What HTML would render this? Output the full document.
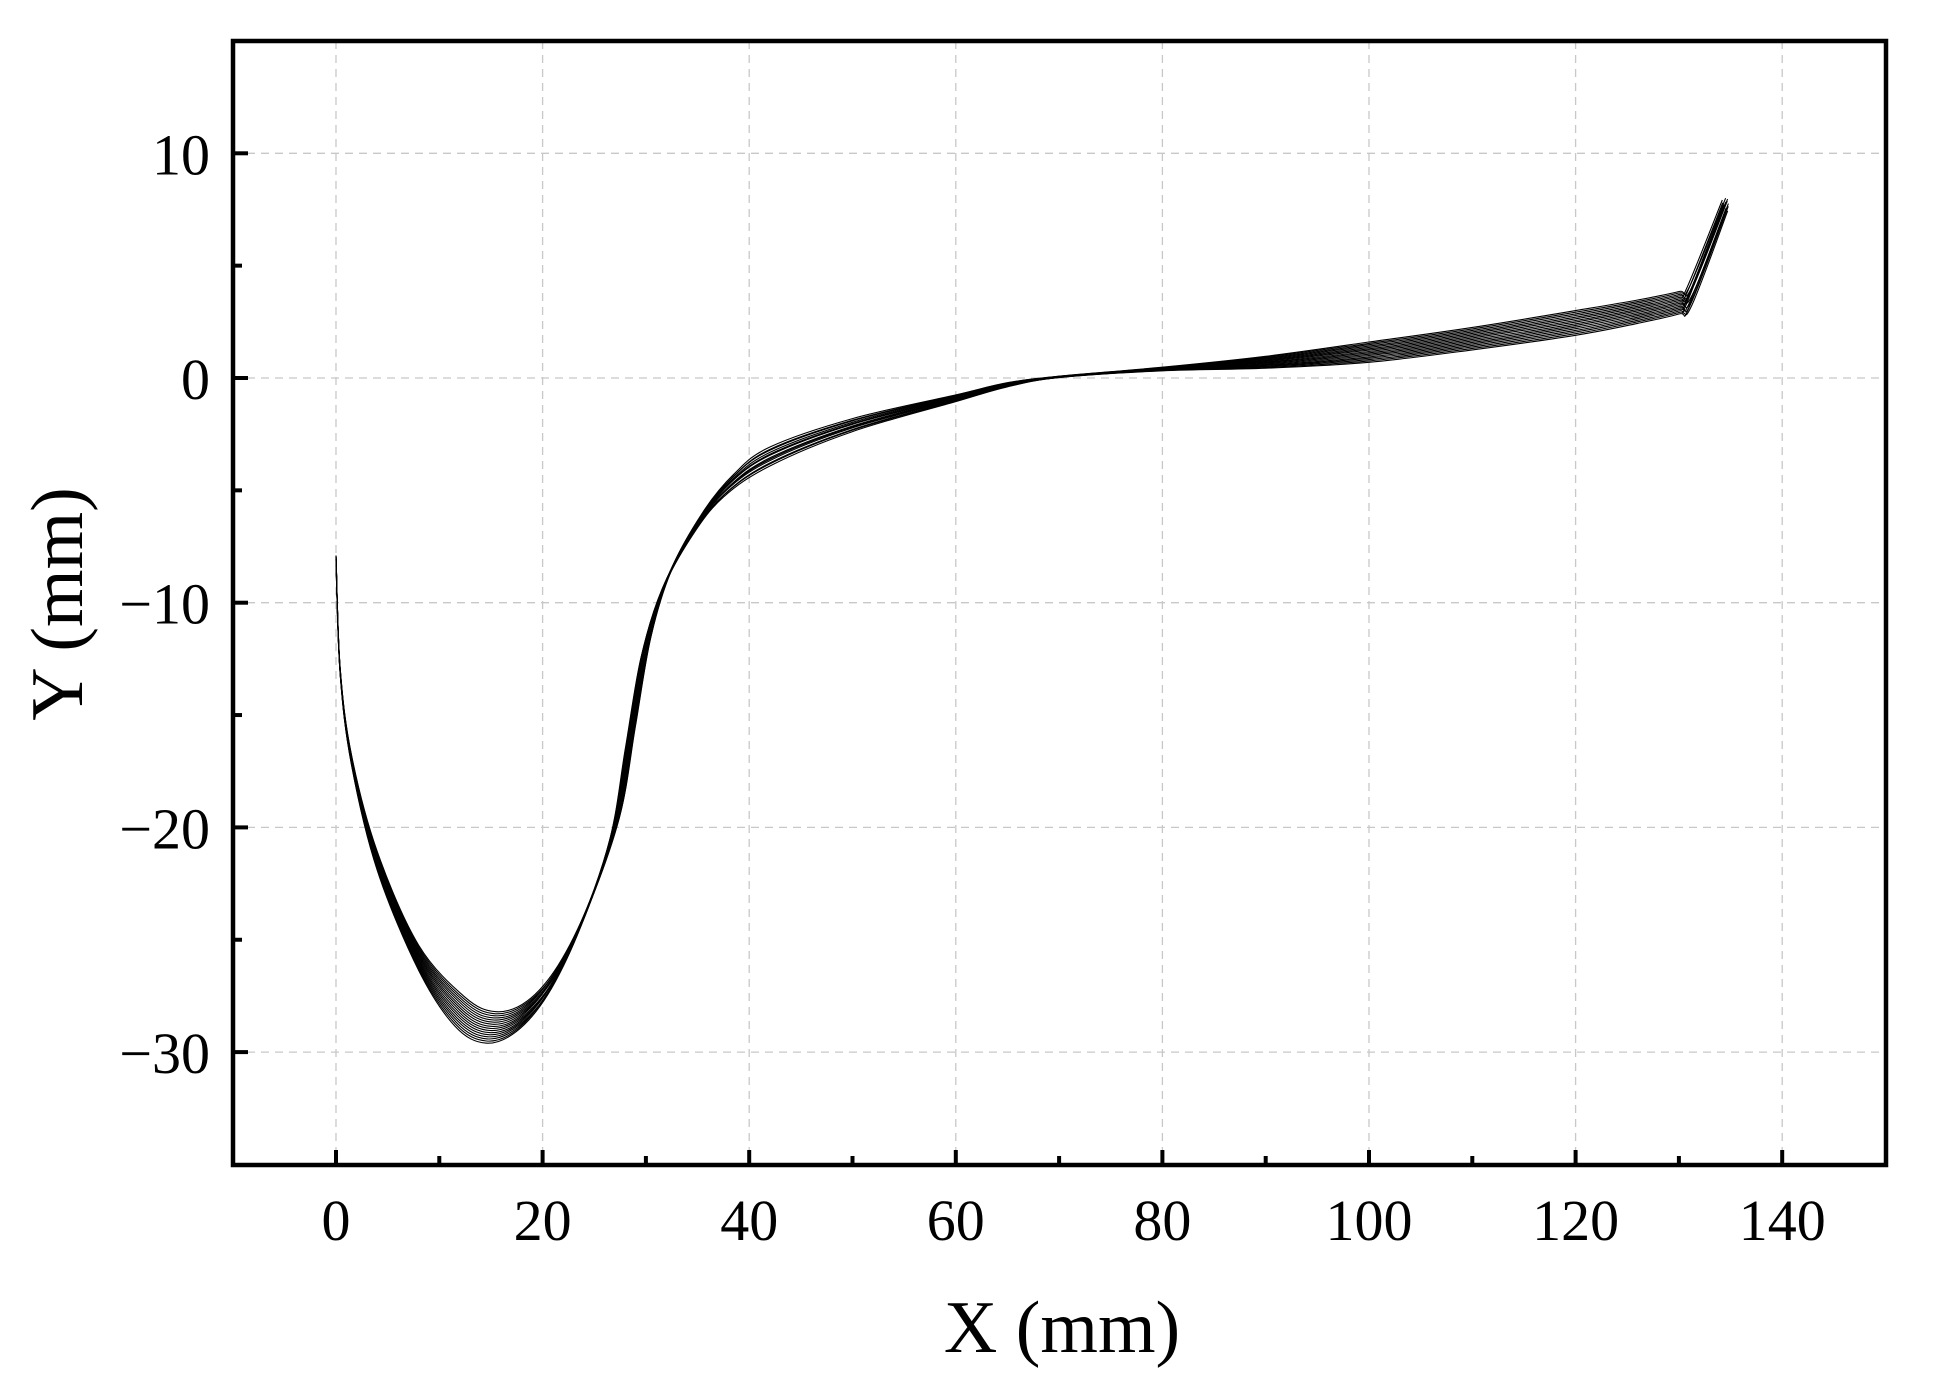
<!DOCTYPE html>
<html><head><meta charset="utf-8"><style>
html,body{margin:0;padding:0;background:#fff;}
svg{display:block;}
text{font-family:"Liberation Serif",serif;fill:#000;}
</style></head><body>
<svg id="s" width="1939" height="1394" viewBox="0 0 1939 1394" xmlns="http://www.w3.org/2000/svg">
<g id="grid" stroke="#c8c8c8" stroke-width="1.3" stroke-dasharray="8,6" fill="none"></g>
<g id="curves" fill="none" stroke="#000" stroke-width="1.1"></g>
<g stroke="#000" stroke-width="4.5" fill="none">
<rect x="233" y="41" width="1653" height="1124"/>
</g>
<g id="ticks" stroke="#000" stroke-width="4"></g>
<g id="xl" font-size="58" text-anchor="middle"></g>
<g id="yl" font-size="58" text-anchor="end"></g>
<text x="1062" y="1352" font-size="74" text-anchor="middle">X (mm)</text>
<text transform="translate(82,604) rotate(-90)" font-size="74" text-anchor="middle">Y (mm)</text>
</svg>
<script>
var X0=336,SX=10.33,Y0=378,SY=22.47;
function px(x){return X0+x*SX}function py(y){return Y0-y*SY}
var h='',gr='',xl='',yl='';
for(var v=-10;v<=150;v+=10){var xx=px(v),L=(v%20==0)?15:9;if(v>-10&&v<150)h+='<line x1="'+xx+'" y1="1165" x2="'+xx+'" y2="'+(1165-L)+'"/>';
if(v>=0&&v<=140&&v%20==0){gr+='<line x1="'+xx+'" y1="41" x2="'+xx+'" y2="1165"/>';xl+='<text x="'+xx+'" y="1240">'+v+'</text>';}}
for(var v=-35;v<=15;v+=5){var yy=py(v),L=(v%10==0)?15:9;if(v>-35&&v<15)h+='<line x1="233" y1="'+yy+'" x2="'+(233+L)+'" y2="'+yy+'"/>';
if(v%10==0&&v>-35&&v<15){gr+='<line x1="233" y1="'+yy+'" x2="1886" y2="'+yy+'"/>';yl+='<text x="210" y="'+(yy+21)+'">'+(v<0?'\u2212'+(-v):v)+'</text>';}}
document.getElementById('ticks').innerHTML=h;document.getElementById('grid').innerHTML=gr;
document.getElementById('xl').innerHTML=xl;document.getElementById('yl').innerHTML=yl;
var base=[[0,-8],[0.4,-13],[1.5,-17],[4,-21.5],[8,-25.8],[12,-28.2],[15,-28.9],[18,-28.4],[21,-26.8],[24,-24],[27,-20],[28.5,-16],[30,-12],[32,-9],[35,-6.5],[38,-4.8],[42,-3.5],[50,-2.1],[60,-0.9],[65,-0.3],[70,0.05],[80,0.4],[90,0.7],[100,1.15],[110,1.75],[120,2.45],[126,2.95],[130,3.35],[131,3.6],[134.5,7.7]];
var spread=[[0,0.1],[5,0.5],[15,0.7],[25,0.6],[30,0.5],[38,0.5],[45,0.35],[60,0.15],[70,0.03],[80,0.08],[100,0.45],[120,0.55],[130,0.5],[134.5,0.3]];
function interp(a,x){for(var i=0;i<a.length-1;i++){if(x<=a[i+1][0]){var f=(x-a[i][0])/(a[i+1][0]-a[i][0]);return a[i][1]+f*(a[i+1][1]-a[i][1]);}}return a[a.length-1][1];}
function cr(p){var d='M'+p[0][0].toFixed(1)+','+p[0][1].toFixed(1);for(var i=0;i<p.length-1;i++){var p0=p[i-1]||p[i],p1=p[i],p2=p[i+1],p3=p[i+2]||p2;d+='C'+(p1[0]+(p2[0]-p0[0])/6).toFixed(1)+','+(p1[1]+(p2[1]-p0[1])/6).toFixed(1)+' '+(p2[0]-(p3[0]-p1[0])/6).toFixed(1)+','+(p2[1]-(p3[1]-p1[1])/6).toFixed(1)+' '+p2[0].toFixed(1)+','+p2[1].toFixed(1);}return d;}
var g='';
for(var k=0;k<16;k++){var s=(k/15)*2-1;var sh=Math.sin(k*1.7)*0.3;
var pts=base.map(function(b){var x=b[0],sp=interp(spread,x);var dx=0;if(x>10&&x<40)dx=s*0.5;if(x>130)dx=Math.sin(k*2.3)*0.3;return [px(x+dx),py(b[1]+s*sp+(x>20&&x<60?sh*sp*0.3:0))];});
g+='<path d="'+cr(pts)+'"/>';}
document.getElementById('curves').innerHTML=g;
</script>
</body></html>
